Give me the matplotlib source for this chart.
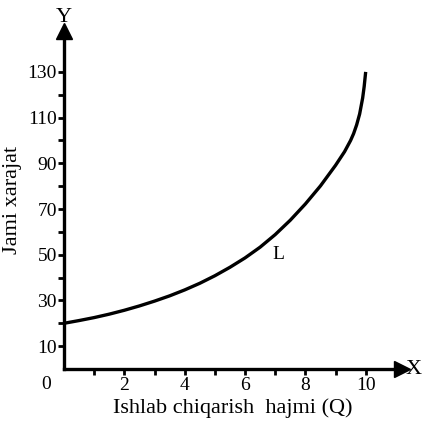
import matplotlib
matplotlib.use("Agg")
import matplotlib.pyplot as plt

# Total cost curve L
Q = [0, 0.5, 1, 1.5, 2, 2.5, 3, 3.5, 4, 4.5, 5, 5.5, 6, 6.5, 7, 7.5, 8,
     8.5, 9, 9.3, 9.5, 9.6, 9.7, 9.8, 9.9, 9.95, 10]
COST = [20, 21.2, 22.5, 24, 25.7, 27.6, 29.7, 32, 34.6, 37.5, 40.8, 44.5,
        48.6, 53.3, 58.8, 65.1, 72.2, 80.1, 89.1, 95.1, 100, 103, 106.8,
        111.6, 118.6, 123.6, 130]

X_MAJOR = [2, 4, 6, 8, 10]
Y_MAJOR = [10, 30, 50, 70, 90, 110, 130]

plt.rcParams["font.family"] = ["Liberation Serif", "DejaVu Serif"]

fig = plt.figure(figsize=(4.25, 4.26), dpi=100)
ax = fig.add_axes([0.1506, 0.1338, 0.795, 0.794])
ax.set_xlim(0, 11.2)
ax.set_ylim(0, 148)

ax.plot(Q, COST, color="black", linewidth=2.4, solid_capstyle="butt",
        solid_joinstyle="round")

# axes as arrows
for side in ("top", "right"):
    ax.spines[side].set_visible(False)
for side in ("left", "bottom"):
    ax.spines[side].set_linewidth(2.4)
ax.plot(1, 0, ">", color="black", markersize=11, transform=ax.get_yaxis_transform(), clip_on=False)
ax.plot(0, 1, "^", color="black", markersize=11, transform=ax.get_xaxis_transform(), clip_on=False)

ax.set_xticks(X_MAJOR)
ax.set_xticks(range(1, 11), minor=True)
ax.set_yticks(Y_MAJOR)
ax.set_yticks(range(10, 140, 10), minor=True)
ax.tick_params(which="both", direction="out", length=4, width=2, labelsize=14, pad=2)
ax.tick_params(axis="y", pad=1)

ax.text(-0.6, -3, "0", fontsize=14, ha="center", va="top")
ax.text(1.01, 0, "X", transform=ax.get_yaxis_transform(), fontsize=16, ha="left", va="center")
ax.text(0, 1.012, "Y", transform=ax.get_xaxis_transform(), fontsize=16, ha="center", va="bottom")
ax.text(7.1, 50, "L", fontsize=14, ha="center", va="center")

ax.set_xlabel("Ishlab chiqarish  hajmi (Q)", fontsize=16, labelpad=3)
ax.set_ylabel("Jami xarajat", fontsize=16, labelpad=4)

fig.savefig("out.png", dpi=100)
